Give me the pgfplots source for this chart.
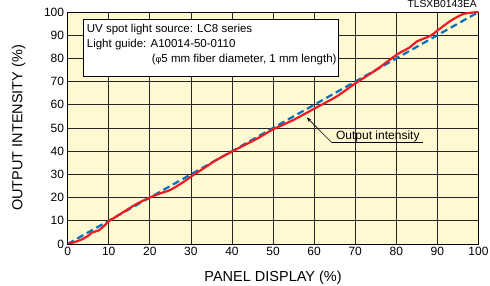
\documentclass[border=0pt]{standalone}
\usepackage{fontspec}
\setmainfont{Liberation Sans}
\usepackage{pgfplots}
\pgfplotsset{compat=1.18}
\usetikzlibrary{arrows.meta}
\definecolor{bgyellow}{RGB}{255,249,210}
\definecolor{cred}{RGB}{237,28,36}
\definecolor{cblue}{RGB}{0,114,188}
\begin{document}
\begin{tikzpicture}
\begin{axis}[
  at={(0pt,0pt)}, anchor=south west,
  scale only axis, width=410.9pt, height=232pt,
  xmin=0, xmax=100, ymin=0, ymax=100,
  xtick={0,10,...,100}, ytick={0,10,...,100},
  grid=major,
  major grid style={black!85, line width=0.6pt},
  major tick length=0pt,
  axis line style={black, line width=0.9pt},
  axis background/.style={fill=bgyellow},
  /pgf/number format/assume math mode=true,
  ticklabel style={font=\fontsize{12}{14}\selectfont},
  label style={font=\fontsize{14.5}{16}\selectfont},
  xlabel={PANEL DISPLAY (\%)},
  ylabel={OUTPUT INTENSITY (\%)},
  xlabel style={at={(axis description cs:0.5,-0.1595)}, anchor=base},
  ylabel style={at={(axis description cs:-0.119,0.5)}, anchor=center},
]
\addplot[cblue, line width=2.2pt, dash pattern=on 7pt off 4pt] coordinates {(0,0) (100,100)};
\addplot[cred, line width=2.2pt, smooth, tension=0.4] coordinates {
(0,0) (2,1) (3.5,2) (5,3.5) (6,5) (7.5,5.8) (9,8) (10,9.8) (12,12) (14.5,14.8)
(17,17.5) (20,20) (22.5,21.8) (25,23.3) (28,26.5) (30,29) (33.7,33.3) (36,36)
(40,39.8) (43,42.6) (46,45.3) (50,49.4) (55,53.5) (60,58.3) (65.4,63.5) (70,69.2)
(75.3,75.3) (80,81.5) (83.3,84.8) (85,87.3) (88.3,89.7) (90,92) (93.2,96.2)
(96.4,99.2) (100,100)};
\draw[black, line width=0.6pt, fill=white] (axis cs:3.8,72.1) rectangle (axis cs:65.9,96.9);
\node[anchor=base west, inner sep=0pt, font=\fontsize{11.5}{13}\selectfont] at (axis cs:4.65,91.1) {UV spot light source: LC8 series};
\node[anchor=base west, inner sep=0pt, font=\fontsize{11.5}{13}\selectfont] at (axis cs:4.65,84.8) {Light guide: A10014-50-0110};
\node[anchor=base east, inner sep=0pt, font=\fontsize{11.5}{13}\selectfont] at (axis cs:65.5,78.1) {({\fontsize{9}{10}\selectfont φ}5 mm fiber diameter, 1 mm length)};
\draw[black, line width=0.6pt, -{Stealth[length=5pt,width=3.5pt]}] (axis cs:64.3,43.7) -- (axis cs:58.2,54.6);
\draw[black, line width=0.6pt] (axis cs:64.3,43.7) -- (axis cs:86.6,43.7);
\node[anchor=base, inner sep=0pt, font=\fontsize{12}{14}\selectfont] at (axis cs:75.5,45.2) {Output intensity};
\end{axis}
\node[anchor=base east, inner sep=0pt, font=\fontsize{10.3}{12}\selectfont] at (409.4pt,236pt) {TLSXB0143EA};
\pgfresetboundingbox
\path[use as bounding box] (-67.6pt,-42pt) rectangle (422.4pt,244pt);
\end{tikzpicture}
\end{document}
